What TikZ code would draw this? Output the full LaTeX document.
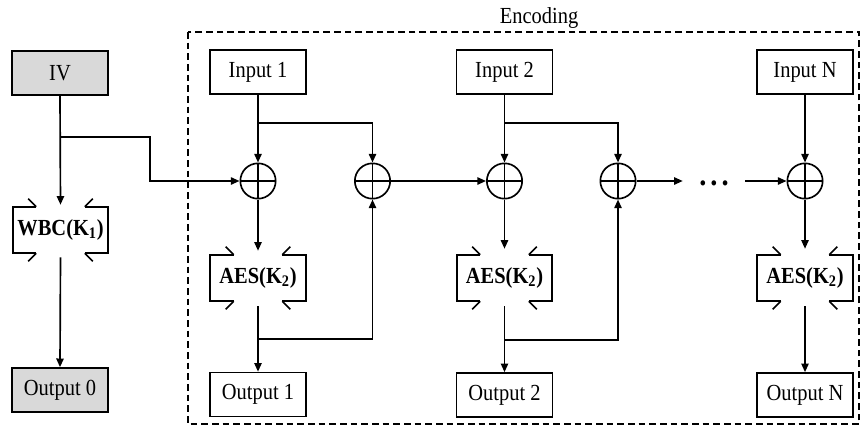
\documentclass[tikz,border=0pt]{standalone}
\usepackage{fontspec}
\setmainfont{Liberation Serif}[FakeStretch=0.89]
\usetikzlibrary{arrows.meta,calc}

\definecolor{boxgray}{RGB}{217,217,217}
\newcommand\lbl{\fontsize{17.25}{20}\selectfont}

\tikzset{
  every picture/.style={line join=miter},
  wire/.style={line width=1.25pt, draw=black},
  flow/.style={wire, -{Triangle[length=6.5pt,width=5.5pt]}},
  plainbox/.style={wire, rectangle, minimum width=72pt, minimum height=33pt,
    inner sep=0pt, font=\lbl},
  graybox/.style={plainbox, fill=boxgray},
  cipher/.style={rectangle, minimum width=71.25pt, minimum height=34.5pt,
    inner sep=0pt, font=\lbl\bfseries},
  xor/.style={wire, circle, minimum size=26.5pt, inner sep=0pt,
    path picture={\draw[line width=1.25pt]
      (path picture bounding box.north) -- (path picture bounding box.south)
      (path picture bounding box.west) -- (path picture bounding box.east);}},
  frame/.style={wire, dash pattern=on 5pt off 3pt, line width=1.1pt}
}

% open bracket frame with diagonal whiskers around a cipher node
\newcommand\cipherframe[1]{%
  \draw[wire] ($(#1.north west)+(23.5,0)$) -- (#1.north west) -- (#1.south west)
    -- ($(#1.south west)+(23.5,0)$);
  \draw[wire] ($(#1.north east)+(-23.5,0)$) -- (#1.north east) -- (#1.south east)
    -- ($(#1.south east)+(-23.5,0)$);
  \draw[wire] ($(#1.north west)+(23.5,0)$) -- ++(-8,-8);
  \draw[wire] ($(#1.north east)+(-23.5,0)$) -- ++(8,-8);
  \draw[wire] ($(#1.south west)+(23.5,0)$) -- ++(-8,8);
  \draw[wire] ($(#1.south east)+(-23.5,0)$) -- ++(8,8);
}

\begin{document}
\begin{tikzpicture}[x=0.75pt,y=-0.75pt]
\useasboundingbox (0,0) rectangle (862,429);

% encoding region
\draw[frame] (188,32) rectangle (859,424);
\node[font=\lbl, anchor=base] (enc) at (539,23.3) {Encoding};

% left column: IV through the white-box cipher
\node[graybox] (iv) at (60,73) {IV};
\node[cipher] (wbc) at (60.5,230) {WBC(K\textsubscript{1})};
\cipherframe{wbc}
\node[graybox] (out0) at (60,390) {Output 0};

% inputs
\node[plainbox] (in1) at (258,72) {Input 1};
\node[plainbox] (in2) at (504.5,72) {Input 2};
\node[plainbox] (inN) at (805,72) {Input N};

% xor gates
\node[xor] (c1) at (258,181) {};
\node[xor] (c2) at (372.5,181) {};
\node[xor] (c3) at (504.5,181) {};
\node[xor] (c4) at (618,181) {};
\node[xor] (cN) at (805,181) {};

% AES blocks
\node[cipher] (aes1) at (258,278) {AES(K\textsubscript{2})};
\node[cipher] (aes2) at (504.5,278) {AES(K\textsubscript{2})};
\node[cipher] (aesN) at (805,278) {AES(K\textsubscript{2})};
\cipherframe{aes1}
\cipherframe{aes2}
\cipherframe{aesN}

% outputs
\node[plainbox] (out1) at (258,394.5) {Output 1};
\node[plainbox] (out2) at (504.5,395) {Output 2};
\node[plainbox] (outN) at (805,395) {Output N};

% ellipsis between the chains
\node[font=\fontsize{24}{26}\selectfont\bfseries, minimum width=46.5pt, inner sep=0pt]
  (dots) at (714,183.5) {.\hspace{3pt}.\hspace{3pt}.};

% branch points
\coordinate (ivb) at (60,137);
\coordinate (b1) at (258,123);
\coordinate (b2) at (504.5,123);
\coordinate (j1) at (258,339);
\coordinate (j2) at (504.5,340);

% left column
\draw[flow] (iv.south) -- ($(wbc.north)+(0,-2)$);
\draw[flow] ($(wbc.south)+(0,4)$) -- (out0.north);
\draw[flow] (ivb) -- (150,137) |- (c1.west);

% first chain
\draw[flow] (in1.south) -- (c1.north);
\draw[flow] (b1) -| (c2.north);
\draw[flow] (c1.south) -- ($(aes1.north)+(0,-4)$);
\draw[flow] ($(aes1.south)+(0,5)$) -- (out1.north);
\draw[flow] (j1) -| (c2.south);
\draw[flow] (c2.east) -- (c3.west);

% second chain
\draw[flow] (in2.south) -- (c3.north);
\draw[flow] (b2) -| (c4.north);
\draw[flow] (c3.south) -- ($(aes2.north)+(0,-6)$);
\draw[flow] ($(aes2.south)+(0,5)$) -- (out2.north);
\draw[flow] (j2) -| (c4.south);
\draw[flow] (c4.east) -- (c4.east -| dots.west);
\draw[flow] (cN.west -| dots.east) -- (cN.west);

% last chain
\draw[flow] (inN.south) -- (cN.north);
\draw[flow] (cN.south) -- ($(aesN.north)+(0,-6)$);
\draw[flow] ($(aesN.south)+(0,5)$) -- (outN.north);
\end{tikzpicture}
\end{document}
